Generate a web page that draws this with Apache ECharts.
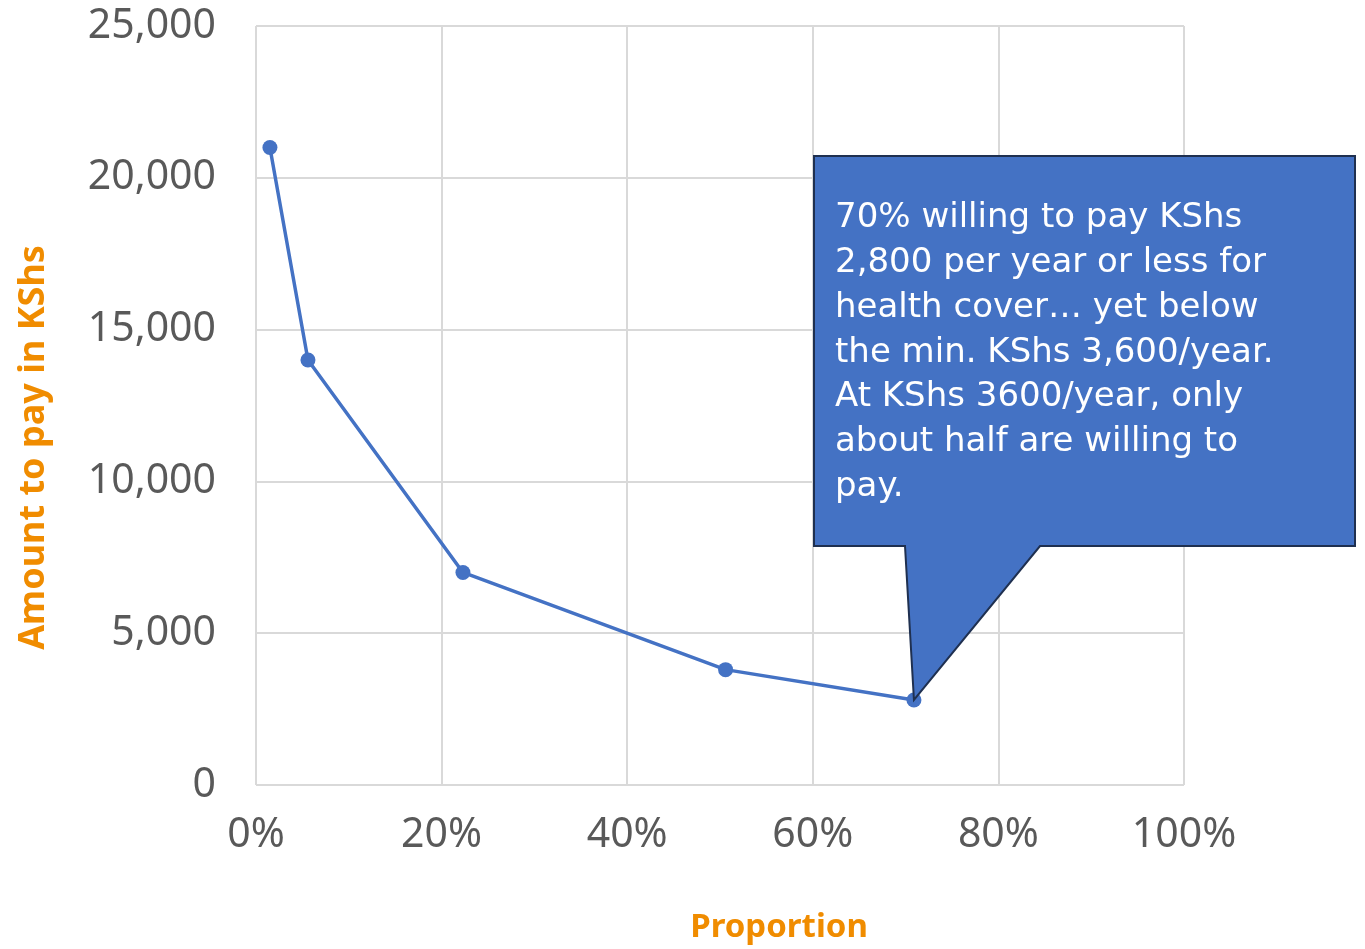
<!DOCTYPE html>
<html>
<head>
<meta charset="utf-8">
<script src="https://cdn.jsdelivr.net/npm/echarts@6/dist/echarts.min.js"></script>
<style>
  html, body { margin: 0; padding: 0; background: #fff; }
  #chart { width: 1365px; height: 949px; }
</style>
</head>
<body>
<div id="chart"></div>
<script>
  // proportion willing to pay (%) vs amount (KShs)
  var proportion = [1.5, 5.6, 22.3, 50.6, 70.9];
  var amount = [21000, 14000, 7000, 3800, 2800];
  var xTicks = [0, 20, 40, 60, 80, 100];
  var calloutText = [
    '70% willing to pay KShs',
    '2,800 per year or less for',
    'health cover\u2026 yet below',
    'the min. KShs 3,600/year.',
    'At KShs 3600/year, only',
    'about half are willing to',
    'pay.'
  ];
  var calloutIndex = 4;

  var font = '"Noto Sans", "Open Sans", sans-serif';
  var orange = '#F08C00';
  var blue = '#4472C4';

  var chart = echarts.init(document.getElementById('chart'));

  chart.setOption({
    backgroundColor: '#fff',
    animation: false,
    grid: { left: 256, right: 181, top: 26, bottom: 161 },
    xAxis: {
      type: 'value',
      min: xTicks[0],
      max: xTicks[xTicks.length - 1],
      interval: 20,
      name: 'Proportion',
      nameLocation: 'middle',
      nameGap: 126,
      nameTextStyle: { color: orange, fontFamily: font, fontWeight: 'bold', fontSize: 33, padding: [0, 0, 0, 118] },
      axisLine: { show: false },
      axisTick: { show: false },
      axisLabel: { color: '#595959', fontFamily: font, fontSize: 41, margin: 30, formatter: '{value}%' },
      splitLine: { show: true, lineStyle: { color: '#D9D9D9', width: 2 } }
    },
    yAxis: {
      type: 'value',
      min: 0,
      max: 25000,
      interval: 5000,
      name: 'Amount to pay in KShs',
      nameLocation: 'middle',
      nameGap: 204,
      nameRotate: 90,
      nameTextStyle: { color: orange, fontFamily: font, fontWeight: 'bold', fontSize: 36, padding: [0, 84, 0, 0] },
      axisLine: { show: false },
      axisTick: { show: false },
      axisLabel: {
        color: '#595959', fontFamily: font, fontSize: 41, margin: 40,
        formatter: function (v) { return v.toLocaleString('en-US'); }
      },
      splitLine: { show: true, lineStyle: { color: '#D9D9D9', width: 2 } }
    },
    series: [{
      type: 'line',
      data: proportion.map(function (p, i) { return [p, amount[i]]; }),
      symbol: 'circle',
      symbolSize: 15,
      lineStyle: { color: blue, width: 3.5 },
      itemStyle: { color: blue },
      z: 3
    }]
  });

  // callout box with pointer ending on the 70% point
  var tip = chart.convertToPixel({ seriesIndex: 0 }, [proportion[calloutIndex], amount[calloutIndex]]);
  chart.setOption({
    graphic: [{
      type: 'polygon',
      z: 10,
      shape: {
        points: [[814, 156], [1355, 156], [1355, 546], [1040, 546], tip, [905, 546], [814, 546]]
      },
      style: { fill: blue, stroke: '#1F3050', lineWidth: 2 }
    }, {
      type: 'text',
      z: 11,
      left: 835,
      top: 196,
      style: {
        text: calloutText.join('\n'),
        fill: '#fff',
        font: '34px "DejaVu Sans", sans-serif',
        lineHeight: 44.8
      }
    }]
  });
</script>
</body>
</html>
